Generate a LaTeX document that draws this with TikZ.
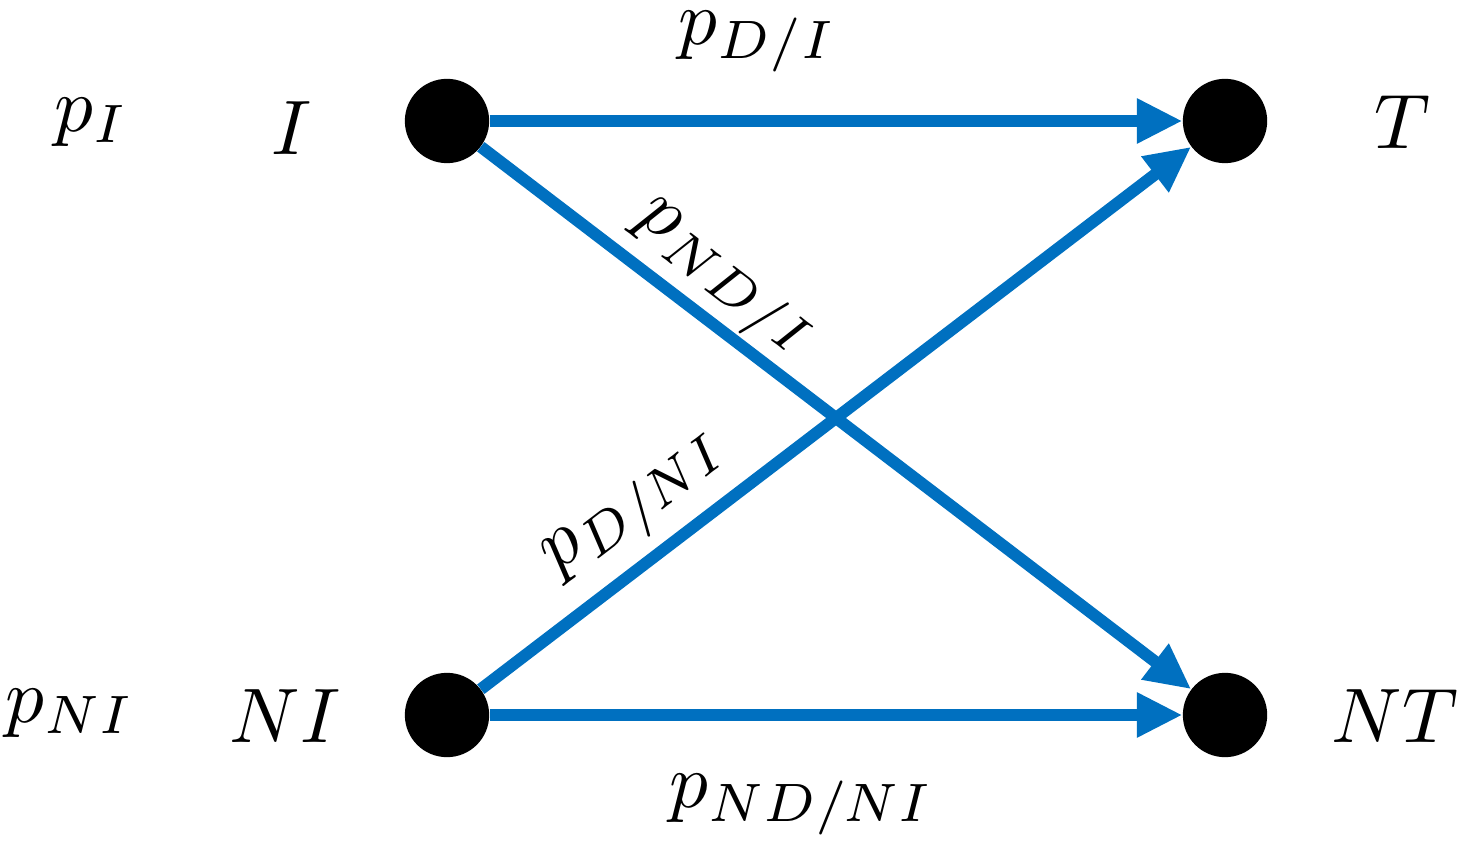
\documentclass[tikz,border=0pt]{standalone}
\usepackage{graphicx}
\usetikzlibrary{arrows.meta}
\definecolor{eblue}{RGB}{0,112,192}
\newcommand\biglab[1]{\scalebox{4.4}{$#1$}}
\begin{document}
\begin{tikzpicture}[x=0.02cm,y=-0.02cm,
  dot/.style={circle,fill=black,minimum size=48pt,inner sep=0pt},
  edge/.style={eblue,line width=6.8pt,-{Triangle[length=26pt,width=24pt]}},
  lab/.style={inner sep=0pt}]
\useasboundingbox (0,0) rectangle (1479,857);
\node[dot] (I) at (447,121) {};
\node[dot] (T) at (1225,121) {};
\node[dot] (NI) at (447,715) {};
\node[dot] (NT) at (1225,715) {};
\node[lab] (pI) at (92,122) {\biglab{p_I}};
\node[lab] (lI) at (292,128) {\biglab{I}};
\node[lab] (lT) at (1402,122) {\biglab{T}};
\node[lab] (pNI) at (70,713) {\biglab{p_{NI}}};
\node[lab] (lNI) at (285,716) {\biglab{NI}};
\node[lab] (lNT) at (1395,716) {\biglab{NT}};
\draw[edge] (I) -- (T);
\draw[edge] (I) -- (NT);
\draw[edge] (NI) -- (T);
\draw[edge] (NI) -- (NT);
\node[lab] (pDI) at (758,42) {\biglab{p_{D/I}}};
\node[lab,rotate=-37.4] (pNDI) at (722,282) {\biglab{p_{ND/I}}};
\node[lab,rotate=37.4] (pDNI) at (638,508) {\biglab{p_{D/NI}}};
\node[lab] (pNDNI) at (802,805) {\biglab{p_{ND/NI}}};
\end{tikzpicture}
\end{document}
